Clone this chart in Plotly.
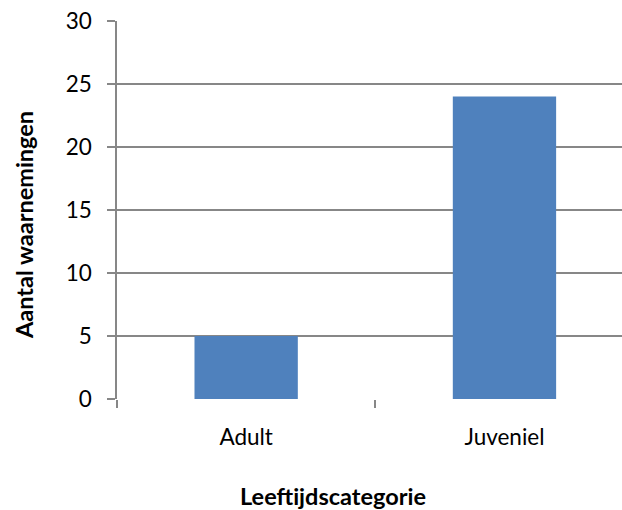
import plotly.graph_objects as go

# Observation counts per age category
categories = ["Adult", "Juveniel"]
counts = [5, 24]
y_ticks = [0, 5, 10, 15, 20, 25, 30]

x_title = "Leeftijdscategorie"
y_title = "Aantal waarnemingen"

BAR_COLOR = "#4F81BD"
GRID = "#878787"
FONT = "Lato"
TICK_SIZE = 22.5
TITLE_SIZE = 23.5

fig = go.Figure()
fig.add_trace(go.Bar(
    x=[0, 1],
    y=counts,
    width=0.4,
    marker=dict(color=BAR_COLOR, line=dict(width=0)),
    showlegend=False,
))

x_range = [-0.5, 1.455]

fig.update_layout(
    width=622,
    height=510,
    margin=dict(l=117, r=0, t=21, b=111),
    paper_bgcolor="white",
    plot_bgcolor="white",
    font=dict(family=FONT, size=TICK_SIZE, color="#000000"),
    xaxis=dict(
        range=x_range,
        tickmode="array",
        tickvals=[0, 1],
        ticktext=categories,
        ticks="",
        showgrid=False,
        zeroline=False,
        showline=False,
        tickfont=dict(family=FONT, size=TICK_SIZE),
        ticklabelstandoff=22,
        fixedrange=True,
    ),
    # Category boundary tick marks below the baseline
    xaxis2=dict(
        overlaying="x",
        range=x_range,
        tickmode="array",
        tickvals=[-0.5, 0.5],
        ticks="outside",
        ticklen=8,
        tickwidth=1.5,
        tickcolor=GRID,
        showticklabels=False,
        showgrid=False,
        zeroline=False,
        showline=False,
        side="bottom",
    ),
    yaxis=dict(
        range=[0, 30],
        tickmode="array",
        tickvals=y_ticks,
        ticks="outside",
        ticklen=8,
        tickwidth=1.5,
        tickcolor=GRID,
        showgrid=True,
        gridcolor=GRID,
        gridwidth=1.5,
        zeroline=False,
        showline=True,
        linecolor=GRID,
        linewidth=1.5,
        tickfont=dict(family=FONT, size=TICK_SIZE),
        ticklabelstandoff=11,
    ),
    annotations=[
        dict(
            text=f"<b>{x_title}</b>",
            xref="paper", yref="paper",
            x=(333 - 117) / 505, y=(399 - 496) / 378,
            xanchor="center", yanchor="middle",
            showarrow=False,
            font=dict(family=FONT, size=TITLE_SIZE),
        ),
        dict(
            text=f"<b>{y_title}</b>",
            xref="paper", yref="paper",
            x=(24 - 117) / 505, y=(399 - 225) / 378,
            xanchor="center", yanchor="middle",
            textangle=-90,
            showarrow=False,
            font=dict(family=FONT, size=TITLE_SIZE),
        ),
    ],
)

# Invisible trace so the second x-axis is drawn
fig.add_trace(go.Scatter(x=[None], y=[None], xaxis="x2", showlegend=False, hoverinfo="skip"))

fig.write_html("out.html")
